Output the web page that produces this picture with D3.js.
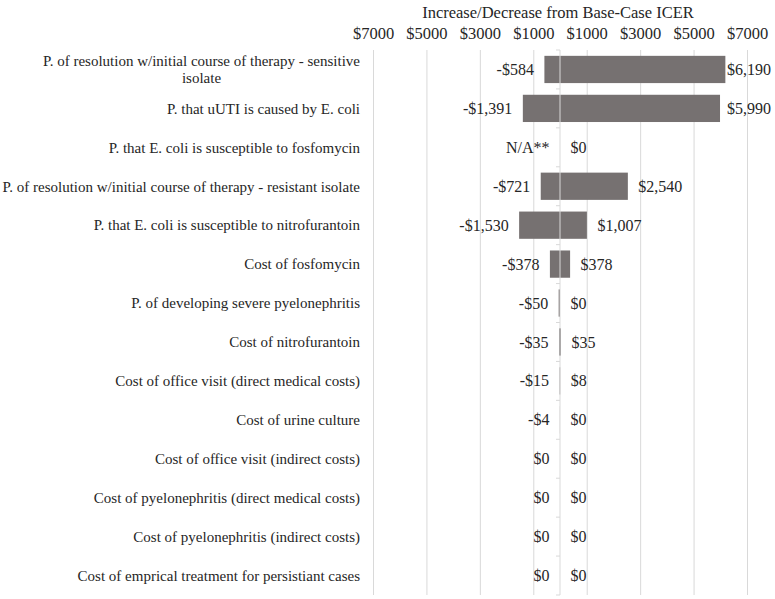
<!DOCTYPE html>
<html><head><meta charset="utf-8">
<script src="https://cdn.jsdelivr.net/npm/d3@7/dist/d3.min.js"></script>
<style>body{margin:0;background:#fff}svg{display:block}</style>
</head><body>
<script>
const categories = [
  "P. of resolution w/initial course of therapy - sensitive\nisolate",
  "P. that uUTI is caused by E. coli",
  "P. that E. coli is susceptible to fosfomycin",
  "P. of resolution w/initial course of therapy - resistant isolate",
  "P. that E. coli is susceptible to nitrofurantoin",
  "Cost of fosfomycin",
  "P. of developing severe pyelonephritis",
  "Cost of nitrofurantoin",
  "Cost of office visit (direct medical costs)",
  "Cost of urine culture",
  "Cost of office visit (indirect costs)",
  "Cost of pyelonephritis (direct medical costs)",
  "Cost of pyelonephritis (indirect costs)",
  "Cost of emprical treatment for persistiant cases"
];
const lowValues  = [-584, -1391, null, -721, -1530, -378, -50, -35, -15, -4, 0, 0, 0, 0];
const highValues = [6190, 5990, 0, 2540, 1007, 378, 0, 35, 8, 0, 0, 0, 0, 0];
const tickValues = [-7000, -5000, -3000, -1000, 1000, 3000, 5000, 7000];
const naLabel = "N/A**";
const title = "Increase/Decrease from Base-Case ICER";

const W = 775, H = 599;
const font = "'Liberation Serif','Times New Roman',serif";
const textColor = "#262626";
const svg = d3.select("body").append("svg").attr("width", W).attr("height", H)
  .attr("font-family", font);

const x = d3.scaleLinear().domain([-7000, 7000]).range([373, 747]);
const y = d3.scaleBand().domain(categories).range([50, 595]).paddingInner(0.3).paddingOuter(0.15);
const plotTop = 50, plotBottom = 595, rightLimit = 771;

// title
svg.append("text").attr("x", x(0) - 2).attr("y", 12).attr("dy", "0.35em")
  .attr("text-anchor", "middle").attr("font-size", 16.5).attr("fill", textColor).text(title);

// axis with gridlines
const axis = d3.axisTop(x).tickValues(tickValues)
  .tickFormat(v => "$" + Math.abs(v))
  .tickSize(-(plotBottom - plotTop)).tickPadding(0);
const g = svg.append("g").attr("transform", `translate(0,${plotTop})`).call(axis);
g.attr("font-family", font);
g.select(".domain").remove();
g.selectAll(".tick line").attr("stroke", "#d9d9d9").attr("stroke-width", 1);
g.selectAll(".tick text").attr("y", -17).attr("dy", "0.35em")
  .attr("font-size", 16.5).attr("fill", textColor);

const rows = categories.map((c, i) => ({c, lo: lowValues[i], hi: highValues[i]}));
const fmt = v => (v < 0 ? "-$" : "$") + d3.format(",")(Math.abs(v));
const bh = y.bandwidth();

// bars
svg.append("g").selectAll("rect.lo").data(rows.filter(d => d.lo != null && d.lo < 0)).join("rect")
  .attr("x", d => x(d.lo)).attr("width", d => x(0) - x(d.lo))
  .attr("y", d => y(d.c)).attr("height", bh).attr("fill", "#767171");
svg.append("g").selectAll("rect.hi").data(rows.filter(d => d.hi > 0)).join("rect")
  .attr("x", x(0)).attr("width", d => x(d.hi) - x(0))
  .attr("y", d => y(d.c)).attr("height", bh).attr("fill", "#767171");

// center axis line with ticks
const step = y.step();
const cz = x(0);
svg.append("line").attr("x1", cz).attr("x2", cz).attr("y1", plotTop).attr("y2", plotBottom)
  .attr("stroke", "#d9d9d9").attr("stroke-width", 1);
svg.append("g").selectAll("line").data(d3.range(categories.length + 1)).join("line")
  .attr("x1", cz - 4).attr("x2", cz).attr("y1", i => plotTop + i * step).attr("y2", i => plotTop + i * step)
  .attr("stroke", "#d9d9d9");

// value labels
svg.append("g").selectAll("text").data(rows).join("text")
  .attr("x", d => (d.lo == null ? cz : x(d.lo)) - 10.5)
  .attr("y", d => y(d.c) + bh / 2).attr("dy", "0.35em")
  .attr("text-anchor", "end").attr("font-size", 16).attr("fill", textColor)
  .text(d => d.lo == null ? naLabel : fmt(d.lo));
svg.append("g").selectAll("text").data(rows).join("text")
  .attr("y", d => y(d.c) + bh / 2).attr("dy", "0.35em")
  .attr("font-size", 16).attr("fill", textColor)
  .text(d => fmt(d.hi))
  .each(function(d) {
    const w = this.getComputedTextLength();
    d3.select(this).attr("x", Math.min(x(d.hi) + 10.5, rightLimit - w));
  });

// category labels
const cl = svg.append("g").selectAll("text").data(rows).join("text")
  .attr("font-size", 15).attr("fill", textColor);
cl.each(function(d) {
  const t = d3.select(this);
  const lines = d.c.split("\n");
  const cy = y(d.c) + bh / 2;
  const lh = 17;
  const y0 = cy - (lines.length - 1) * lh / 2;
  if (lines.length === 1) {
    t.attr("x", 360).attr("y", cy).attr("dy", "0.35em").attr("text-anchor", "end").text(lines[0]);
  } else {
    const first = t.append("tspan").attr("x", 360).attr("y", y0).attr("dy", "0.35em")
      .attr("text-anchor", "end").text(lines[0]);
    const w = first.node().getComputedTextLength();
    const mid = 360 - w / 2;
    lines.slice(1).forEach((ln, k) => {
      t.append("tspan").attr("x", mid).attr("y", y0 + (k + 1) * lh).attr("dy", "0.35em")
        .attr("text-anchor", "middle").text(ln);
    });
  }
});
</script>
</body></html>
